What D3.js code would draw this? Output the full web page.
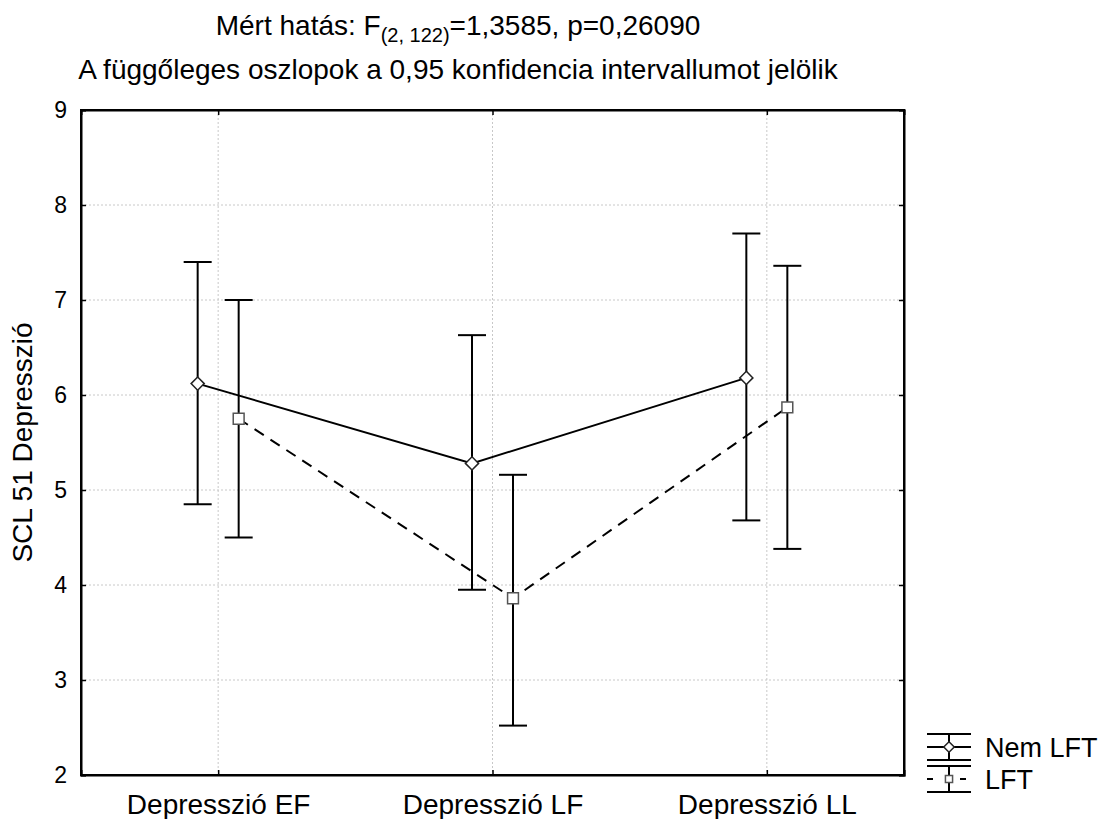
<!DOCTYPE html>
<html>
<head>
<meta charset="utf-8">
<script src="https://cdn.jsdelivr.net/npm/d3@7"></script>
<style>
  body { margin: 0; background: #fff; }
  text { font-family: "Liberation Sans", Arial, sans-serif; fill: #000; }
</style>
</head>
<body>
<div id="chart"></div>
<script>
// categories and series (mean, lower and upper 0.95 CI)
const categories = ["Depresszió EF", "Depresszió LF", "Depresszió LL"];
const seriesNames = ["Nem LFT", "LFT"];
const nemMean = [6.12, 5.28, 6.18];
const nemLow = [4.85, 3.95, 4.68];
const nemHigh = [7.40, 6.63, 7.70];
const lftMean = [5.75, 3.86, 5.87];
const lftLow = [4.50, 2.52, 4.38];
const lftHigh = [7.00, 5.16, 7.36];
const yTicks = [2, 3, 4, 5, 6, 7, 8, 9];

const W = 1103, H = 819;
const margin = { top: 110, right: 199, bottom: 44, left: 81 };
const width = W - margin.left - margin.right;
const height = H - margin.top - margin.bottom;
const FONT = "Liberation Sans, Arial, sans-serif";

const svg = d3.select("#chart").append("svg")
  .attr("width", W)
  .attr("height", H);

const g = svg.append("g")
  .attr("transform", `translate(${margin.left},${margin.top})`);

const x = d3.scalePoint().domain(categories).range([0, width]).padding(0.5);
const y = d3.scaleLinear().domain([2, 9]).range([height, 0]);
const offset = 20.5;

// grid
g.append("g").selectAll("line")
  .data(yTicks.slice(1, -1))
  .join("line")
  .attr("x1", 0).attr("x2", width)
  .attr("y1", d => y(d)).attr("y2", d => y(d))
  .attr("stroke", "#c8c8c8").attr("stroke-dasharray", "2,2");
g.append("g").selectAll("line")
  .data(categories)
  .join("line")
  .attr("x1", d => x(d)).attr("x2", d => x(d))
  .attr("y1", 0).attr("y2", height)
  .attr("stroke", "#c8c8c8").attr("stroke-dasharray", "2,2");

// axes with inward ticks
const yAxis = g.append("g")
  .call(d3.axisLeft(y).tickValues(yTicks).tickFormat(d3.format("d")).tickSize(-5).tickPadding(14));
const xAxis = g.append("g").attr("transform", `translate(0,${height})`)
  .call(d3.axisBottom(x).tickSize(-5).tickPadding(19));
g.append("g").call(d3.axisTop(x).tickSize(-5).tickFormat(""));
g.append("g").attr("transform", `translate(${width},0)`)
  .call(d3.axisRight(y).tickValues(yTicks).tickSize(-5).tickFormat(""));
g.selectAll(".domain").attr("stroke", "#000").attr("stroke-width", 2);
g.selectAll(".tick line").attr("stroke", "#000").attr("stroke-width", 1.5);
yAxis.selectAll("text").attr("font-size", 23).attr("font-family", FONT);
xAxis.selectAll("text").attr("font-size", 28).attr("font-family", FONT);

g.append("rect").attr("width", width).attr("height", height)
  .attr("fill", "none").attr("stroke", "#000").attr("stroke-width", 2);

const series = [
  { name: seriesNames[0], mean: nemMean, low: nemLow, high: nemHigh, dx: -offset, dash: null, shape: "diamond" },
  { name: seriesNames[1], mean: lftMean, low: lftLow, high: lftHigh, dx: offset, dash: "11,8", shape: "square" }
];

const capW = 14;
series.forEach(s => {
  const pts = categories.map((c, i) => ({ c, m: s.mean[i], lo: s.low[i], hi: s.high[i] }));
  const line = d3.line().x(d => x(d.c) + s.dx).y(d => y(d.m));
  g.append("path").datum(pts)
    .attr("d", line)
    .attr("fill", "none").attr("stroke", "#000").attr("stroke-width", 2)
    .attr("stroke-dasharray", s.dash);

  const eb = g.append("g").selectAll("g").data(pts).join("g");
  eb.append("line")
    .attr("x1", d => x(d.c) + s.dx).attr("x2", d => x(d.c) + s.dx)
    .attr("y1", d => y(d.lo)).attr("y2", d => y(d.hi))
    .attr("stroke", "#000").attr("stroke-width", 2);
  ["lo", "hi"].forEach(k => {
    eb.append("line")
      .attr("x1", d => x(d.c) + s.dx - capW).attr("x2", d => x(d.c) + s.dx + capW)
      .attr("y1", d => y(d[k])).attr("y2", d => y(d[k]))
      .attr("stroke", "#000").attr("stroke-width", 2);
  });

  const sym = s.shape === "diamond" ? d3.symbolDiamond2 : d3.symbolSquare2;
  const size = s.shape === "diamond" ? 110 : 150;
  g.append("g").selectAll("path").data(pts).join("path")
    .attr("transform", d => `translate(${x(d.c) + s.dx},${y(d.m)})`)
    .attr("d", d3.symbol(sym, size))
    .attr("fill", "#fff").attr("stroke", s.shape === "diamond" ? "#222" : "#555")
    .attr("stroke-width", 1.5);
});

// titles
const cx = 458;
const t1 = svg.append("text").attr("x", cx).attr("y", 35)
  .attr("text-anchor", "middle").attr("font-size", 28);
t1.append("tspan").text("Mért hatás: F");
t1.append("tspan").attr("font-size", 20).attr("dy", 7).text("(2, 122)");
t1.append("tspan").attr("dy", -7).text("=1,3585, p=0,26090");
svg.append("text").attr("x", cx).attr("y", 79)
  .attr("text-anchor", "middle").attr("font-size", 28)
  .text("A függőleges oszlopok a 0,95 konfidencia intervallumot jelölik");

// y label
svg.append("text")
  .attr("transform", `translate(32,${margin.top + height / 2}) rotate(-90)`)
  .attr("text-anchor", "middle").attr("font-size", 28)
  .text("SCL 51 Depresszió");

// legend
const lg = svg.append("g").attr("transform", "translate(949,0)");
const legRows = [{ s: series[0], mid: 747 }, { s: series[1], mid: 779 }];
legRows.forEach(r => {
  const row = lg.append("g");
  [-13, 13].forEach(dy => row.append("line")
    .attr("x1", -22).attr("x2", 22).attr("y1", r.mid + dy).attr("y2", r.mid + dy)
    .attr("stroke", "#000").attr("stroke-width", 2));
  row.append("line").attr("x1", 0).attr("x2", 0).attr("y1", r.mid - 13).attr("y2", r.mid + 13)
    .attr("stroke", "#000").attr("stroke-width", 2);
  if (r.s.dash) {
    [[-22, -16], [11, 17]].forEach(([a, b]) => row.append("line")
      .attr("x1", a).attr("x2", b).attr("y1", r.mid).attr("y2", r.mid)
      .attr("stroke", "#000").attr("stroke-width", 2));
  } else {
    row.append("line").attr("x1", -22).attr("x2", 22).attr("y1", r.mid).attr("y2", r.mid)
      .attr("stroke", "#000").attr("stroke-width", 2);
  }
  const sym = r.s.shape === "diamond" ? d3.symbolDiamond2 : d3.symbolSquare2;
  row.append("path").attr("transform", `translate(0,${r.mid})`)
    .attr("d", d3.symbol(sym, r.s.shape === "diamond" ? 70 : 65))
    .attr("fill", "#fff").attr("stroke", r.s.shape === "diamond" ? "#222" : "#555").attr("stroke-width", 1.5);
  svg.append("text").attr("x", 985).attr("y", r.mid + 10).attr("font-size", 27).text(r.s.name);
});
</script>
</body>
</html>
